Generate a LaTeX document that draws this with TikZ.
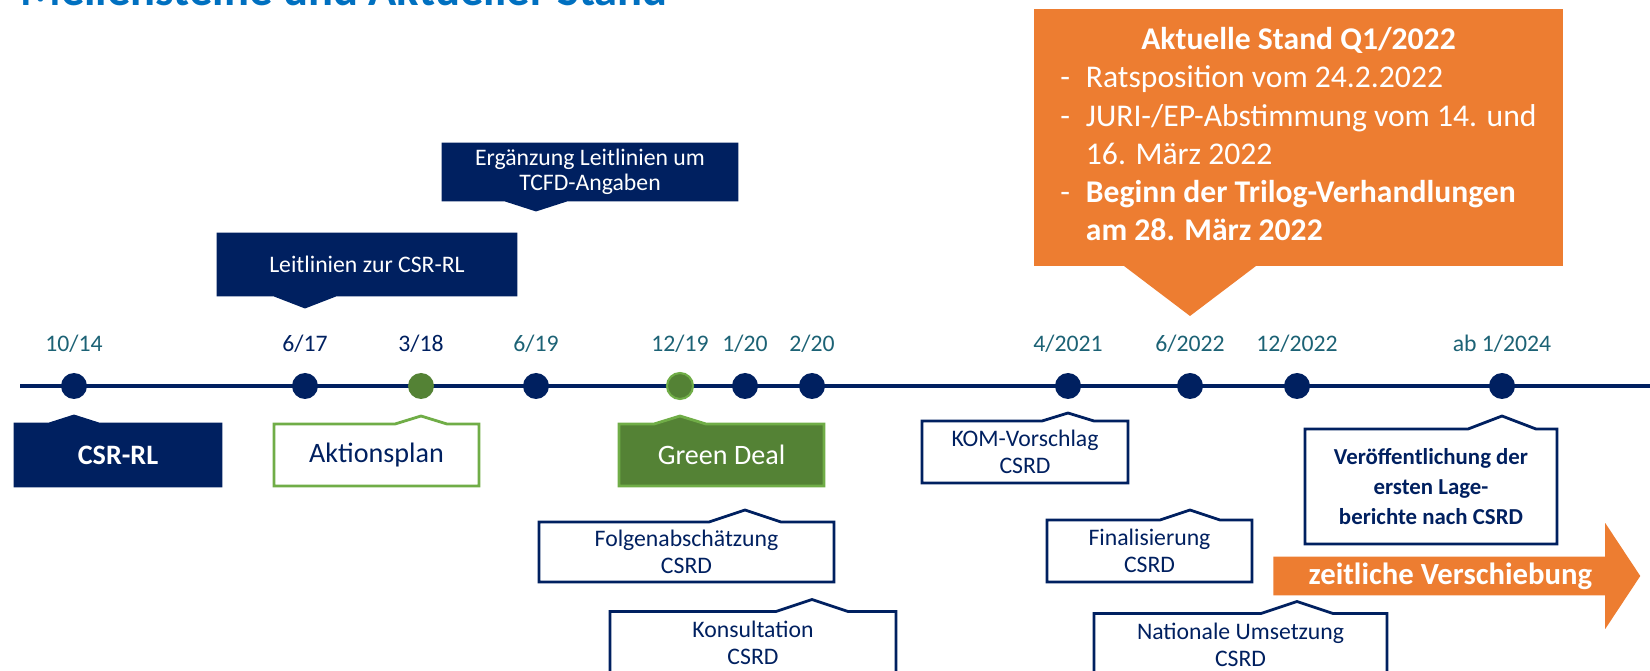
\documentclass[tikz,border=0pt]{standalone}
\usepackage{fontspec}
\setmainfont{Carlito}
\usepackage{tikz}
\usetikzlibrary{calc, shapes.arrows, arrows.meta}
\definecolor{msNavy}{RGB}{0,32,96}
\definecolor{msTeal}{RGB}{28,98,117}
\definecolor{msGreen}{RGB}{84,130,53}
\definecolor{msLightGreen}{RGB}{112,173,71}
\definecolor{msOrange}{RGB}{237,125,49}
\definecolor{msBlue}{RGB}{0,112,192}
\pgfdeclarelayer{background}
\pgfsetlayers{background,main}

\newcommand{\upnotch}[5]{%
  \draw[#1] (#2.south west) |- ($(#2.north -| #3)+(-#4,0)$)
    -- ($(#2.north -| #3)+(0,-#5)$) -- ($(#2.north -| #3)+(#4,0)$)
    -| (#2.south east) -- cycle;}
\newcommand{\downnotch}[5]{%
  \draw[#1] (#2.north west) |- ($(#2.south -| #3)+(-#4,0)$)
    -- ($(#2.south -| #3)+(0,#5)$) -- ($(#2.south -| #3)+(#4,0)$)
    -| (#2.north east) -- cycle;}

\tikzset{
  dot/.style={circle, fill=msNavy, minimum size=0.52cm, inner sep=0pt},
  navydot/.style={dot},
  greendot/.style={dot, fill=msGreen},
  ringdot/.style={dot, fill=msGreen, draw=msLightGreen, line width=1.2pt},
  datelbl/.style={anchor=base, inner sep=0pt, font=\fontsize{13.5}{16}\selectfont},
  boxtext/.style={inner sep=0pt, outer sep=0pt, align=center, text=msNavy,
    font=\fontsize{13.5}{15.5}\selectfont},
  bigtext/.style={boxtext, font=\fontsize{16}{19}\selectfont},
  navyfill/.style={fill=msNavy, draw=msNavy, line width=1.6pt},
  navyline/.style={fill=white, draw=msNavy, line width=1.6pt},
  greenline/.style={fill=white, draw=msLightGreen, line width=1.6pt},
  greenfill/.style={fill=msGreen, draw=msLightGreen, line width=1.6pt},
  orangefill/.style={fill=msOrange, draw=none},
  timeline/.style={draw=msNavy, line width=2.8pt, -{Triangle[length=9pt, width=10pt]}},
  shiftarrow/.style={single arrow, fill=msOrange, text=white, inner sep=0pt,
    font=\fontsize{17.5}{21}\selectfont\bfseries, minimum height=7.34cm,
    minimum width=2.12cm, single arrow head extend=0.48cm, single arrow tip angle=113}
}

\begin{document}
\begin{tikzpicture}[x=0.02cm, y=-0.02cm]
    \useasboundingbox (0,0) rectangle (1650,671);

    \node[anchor=base west, inner sep=0pt, text=msBlue,
          font=\fontsize{26.5}{30}\selectfont\bfseries] (title) at (20,6) {Meilensteine und Aktueller Stand};

    \coordinate (tl-start) at (20,386);
    \coordinate (tl-end) at (1666,386);
    \draw[timeline] (tl-start) -- (tl-end);

    \foreach \n/\x/\t/\s/\c in {
        1/74/{10/14}/navydot/msTeal,
        2/305/{6/17}/navydot/msNavy,
        3/421/{3/18}/greendot/msNavy,
        4/536/{6/19}/navydot/msTeal,
        5/680/{12/19}/ringdot/msTeal,
        6/745/{1/20}/navydot/msTeal,
        7/812/{2/20}/navydot/msTeal,
        8/1068/{4/2021}/navydot/msTeal,
        9/1190/{6/2022}/navydot/msTeal,
        10/1297/{12/2022}/navydot/msTeal,
        11/1502/{ab 1/2024}/navydot/msTeal}
    {
      \node[\s] (d\n) at (\x,386) {};
      \node[datelbl, text=\c] (t\n) at (\x,352) {\t};
    }

    \node[bigtext, text=white, font=\fontsize{16}{19}\selectfont\bfseries,
          minimum width=4.12cm, minimum height=1.24cm] (csr) at (118,455) {CSR-RL};
    \node[bigtext, minimum width=4.10cm, minimum height=1.24cm] (akt) at (376.5,455) {Aktionsplan};
    \node[bigtext, text=white, minimum width=4.10cm, minimum height=1.24cm] (deal) at (721.5,455) {Green Deal};
    \node[boxtext, minimum width=4.12cm, minimum height=1.24cm] (kom) at (1025,452) {KOM-Vorschlag\\CSRD};
    \node[boxtext, font=\fontsize{13}{17}\selectfont\bfseries,
          minimum width=5.04cm, minimum height=2.30cm] (pub) at (1431,486.5) {Veröffentlichung der\\ersten Lage-\\berichte nach CSRD};
    \node[boxtext, minimum width=5.90cm, minimum height=1.20cm] (folg) at (686.5,552) {Folgenabschätzung\\CSRD};
    \node[boxtext, minimum width=5.72cm, minimum height=1.26cm] (kons) at (753,643) {Konsultation\\CSRD};
    \node[boxtext, minimum width=4.10cm, minimum height=1.24cm] (fin) at (1149.5,551) {Finalisierung\\CSRD};
    \node[boxtext, minimum width=5.86cm, minimum height=1.26cm] (nat) at (1240.5,645) {Nationale Umsetzung\\CSRD};
    \node[boxtext, text=white, minimum width=5.96cm, minimum height=1.22cm] (leit) at (367,264.5) {Leitlinien zur CSR-RL};
    \node[boxtext, text=white, font=\fontsize{13.5}{14.2}\selectfont,
          minimum width=5.88cm, minimum height=1.12cm] (erg) at (590,172) {Ergänzung Leitlinien um\\TCFD-Angaben};

    \node[inner sep=0pt, outer sep=0pt, text=white, font=\fontsize{18}{21.8}\selectfont,
          minimum width=10.58cm, minimum height=5.14cm] (stand) at (1298.5,137.5) {%
      \begin{tabular}{@{}l@{\hspace{9pt}}l@{}}
        \multicolumn{2}{c}{\bfseries Aktuelle Stand Q1/2022}\\
        -& Ratsposition vom 24.2.2022\\
        -& JURI-/EP-Abstimmung vom 14. und\\
         & 16. März 2022\\
        -& \bfseries Beginn der Trilog-Verhandlungen\\
         & \bfseries am 28. März 2022
      \end{tabular}};

    \begin{pgfonlayer}{background}
      \upnotch{navyfill}{csr}{d1}{25}{8}
      \upnotch{greenline}{akt}{d3}{26}{8}
      \upnotch{greenfill}{deal}{d5}{26}{8}
      \upnotch{navyline}{kom}{d8}{26}{8}
      \upnotch{navyline}{pub}{d11}{34}{13}
      \upnotch{navyline}{folg}{d6}{36}{12}
      \upnotch{navyline}{kons}{d7}{36}{12}
      \upnotch{navyline}{fin}{d9}{30}{10}
      \upnotch{navyline}{nat}{d10}{36}{12}
      \downnotch{navyfill}{leit}{d2}{31}{12}
      \downnotch{navyfill}{erg}{d4}{31}{10}
      \downnotch{orangefill}{stand}{d9}{66}{50}
    \end{pgfonlayer}

    \node[shiftarrow, anchor=tail] (shift) at (1273,576) {zeitliche Verschiebung};
\end{tikzpicture}
\end{document}
